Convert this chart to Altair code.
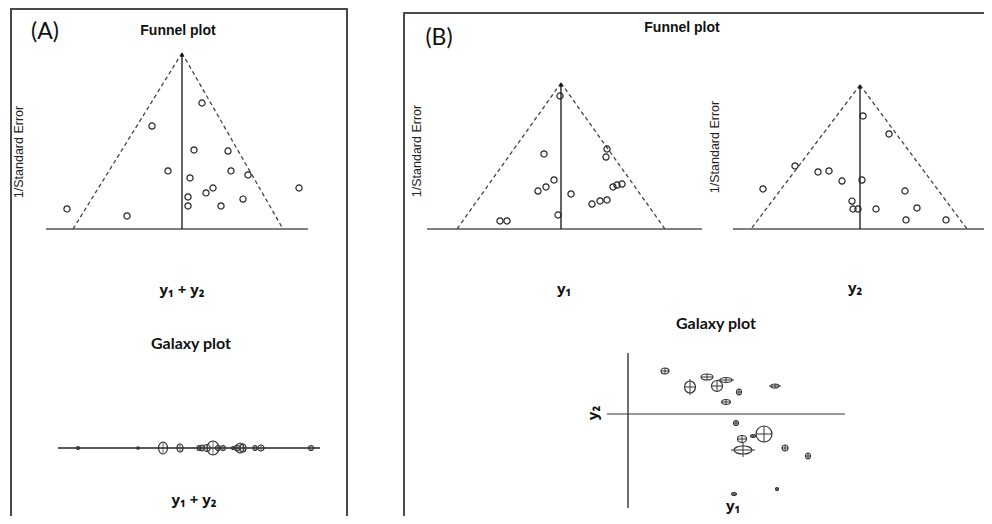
import altair as alt
import pandas as pd

# ---------------- data ----------------
# Panel A funnel (pooled y1 + y2): effect, precision (1/SE)
fa_effect = [0.40, -0.60, 0.24, 0.92, -0.28, 0.98, 1.32, 0.16, 0.62, 0.48, 2.34, 0.12, 1.22, 0.12, 0.78, -2.30, -1.10]
fa_prec = [7.16, 5.85, 4.49, 4.43, 3.30, 3.30, 3.07, 2.90, 2.33, 2.05, 2.33, 1.82, 1.70, 1.31, 1.31, 1.14, 0.74]
fa_limits = [-2.18, 2.02]
fa_axis = [-2.72, 2.52]

# Panel B funnel y1
f1_effect = [-0.02, -0.34, 0.92, 0.90, -0.14, -0.30, -0.46, 0.20, 1.04, 1.12, 1.22, 0.62, 0.78, 0.92, -0.06, -1.22, -1.08]
f1_prec = [9.11, 5.14, 5.48, 4.93, 3.36, 2.88, 2.60, 2.40, 2.88, 3.01, 3.08, 1.71, 1.92, 1.99, 0.96, 0.55, 0.55]
f1_limits = [-2.08, 2.08]
f1_axis = [-2.68, 2.82]

# Panel B funnel y2
f2_effect = [0.06, 0.58, -1.30, -0.84, -0.62, -0.36, 0.04, -1.94, 0.90, -0.16, -0.14, -0.04, 0.32, 1.14, 0.92, 1.72]
f2_prec = [7.85, 6.60, 4.38, 3.96, 4.03, 3.33, 3.40, 2.78, 2.64, 1.94, 1.39, 1.39, 1.39, 1.46, 0.63, 0.63]
f2_limits = [-2.18, 2.14]
f2_axis = [-2.54, 3.10]

apex_prec = 10.0
pooled = 0.0

# Panel A galaxy (1-D, y1 + y2)
ga_effect = [-2.08, -0.88, -0.38, -0.04, 0.34, 0.40, 0.50, 0.62, 0.72, 0.82, 1.02, 1.10, 1.16, 1.22, 1.46, 1.58, 2.58]
ga_se_x = [0.03, 0.024, 0.09, 0.06, 0.04, 0.05, 0.06, 0.12, 0.05, 0.05, 0.03, 0.05, 0.08, 0.06, 0.04, 0.06, 0.05]
ga_se_y = [0.075, 0.06, 0.30, 0.20, 0.125, 0.15, 0.175, 0.35, 0.125, 0.125, 0.075, 0.15, 0.25, 0.20, 0.125, 0.15, 0.125]
ga_axis = [-2.48, 2.76]

# Panel B galaxy (y1 vs y2)
gb_y1 = [0.925, 1.975, 1.55, 2.225, 2.45, 2.775, 3.675, 2.45, 2.70, 2.85, 3.125, 3.40, 2.875, 3.925, 4.50, 3.725, 2.65]
gb_y2 = [1.075, 0.925, 0.675, 0.70, 0.85, 0.55, 0.70, 0.30, -0.225, -0.625, -0.55, -0.50, -0.90, -0.85, -1.05, -1.875, -2.00]
gb_se1 = [0.10, 0.15, 0.1375, 0.1375, 0.15, 0.0625, 0.10, 0.1125, 0.0625, 0.1125, 0.0625, 0.20, 0.225, 0.075, 0.0625, 0.0375, 0.0625]
gb_se2 = [0.075, 0.075, 0.15, 0.1375, 0.0625, 0.075, 0.05, 0.0625, 0.0625, 0.0875, 0.0375, 0.20, 0.10, 0.075, 0.075, 0.0375, 0.0375]
gb_ci1 = [0.10, 0.15, 0.1375, 0.1375, 0.20, 0.0625, 0.15, 0.1125, 0.0625, 0.1125, 0.0625, 0.20, 0.30, 0.075, 0.0625, 0.0375, 0.0625]
gb_ci2 = [0.075, 0.075, 0.20, 0.1375, 0.0625, 0.075, 0.05, 0.0625, 0.0625, 0.0875, 0.0375, 0.20, 0.175, 0.075, 0.075, 0.0375, 0.0375]
gb_axis_y1 = [-0.525, 5.425]
gb_axis_y2 = [-2.35, 1.525]

INK = "#222222"
LINE = "#444444"


def sc(domain, rng):
    return alt.Scale(domain=domain, range=rng, nice=False, zero=False)


def ellipse_path(rx, ry):
    m = max(rx, ry)
    a, b, k = rx / m, ry / m, 0.5523
    f = lambda v: f"{v:.4f}"
    return (f"M {f(a)} 0 C {f(a)} {f(k*b)} {f(k*a)} {f(b)} 0 {f(b)} "
            f"C {f(-k*a)} {f(b)} {f(-a)} {f(k*b)} {f(-a)} 0 "
            f"C {f(-a)} {f(-k*b)} {f(-k*a)} {f(-b)} 0 {f(-b)} "
            f"C {f(k*a)} {f(-b)} {f(a)} {f(-k*b)} {f(a)} 0 Z"), (2 * m) ** 2


def funnel(effect, prec, limits, axis, xdom, xr, ydom, yr):
    xs, ys = sc(xdom, xr), sc(ydom, yr)
    X = lambda f: alt.X(f, type="quantitative", scale=xs, axis=None)
    Y = lambda f: alt.Y(f, type="quantitative", scale=ys, axis=None)
    pts = alt.Chart(pd.DataFrame({"e": effect, "p": prec})).mark_point(
        shape="circle", size=38, filled=False, color=INK, strokeWidth=1.2, opacity=1
    ).encode(x=X("e"), y=Y("p"))
    dash = pd.DataFrame({"x": [pooled, pooled], "y": [apex_prec, apex_prec],
                         "x2": limits, "y2": [0, 0]})
    dashed = alt.Chart(dash).mark_rule(color=LINE, strokeWidth=1.3, strokeDash=[4, 3]).encode(
        x=X("x"), y=Y("y"), x2="x2", y2="y2")
    base = alt.Chart(pd.DataFrame({"x": [axis[0]], "x2": [axis[1]], "y": [0]})).mark_rule(
        color="#555", strokeWidth=1.6).encode(x=X("x"), x2="x2", y=Y("y"))
    vert = alt.Chart(pd.DataFrame({"x": [pooled], "y": [0], "y2": [apex_prec]})).mark_rule(
        color="#111", strokeWidth=1.3).encode(x=X("x"), y=Y("y"), y2="y2")
    arrow = alt.Chart(pd.DataFrame({"x": [pooled], "y": [apex_prec]})).mark_point(
        shape="triangle-up", size=16, filled=True, color="#111", opacity=1, yOffset=2).encode(x=X("x"), y=Y("y"))
    return alt.layer(base, dashed, vert, arrow, pts)


def txt(s, x, y, size, font, weight="normal", angle=0, color="#111"):
    kw = dict(text=s, fontSize=size, font=font, fontWeight=weight, color=color,
              align="center", baseline="middle")
    if angle:
        kw["angle"] = angle
    return alt.Chart(alt.Data(values=[{}])).mark_text(**kw).encode(x=alt.value(x), y=alt.value(y))


def frame(x, x2, y, y2):
    return alt.Chart(alt.Data(values=[{}])).mark_rect(
        fill="white", fillOpacity=0, stroke="#4a4a4a", strokeWidth=2
    ).encode(x=alt.value(x), x2=alt.value(x2), y=alt.value(y), y2=alt.value(y2))


# ---------------- panels ----------------
fA = funnel(fa_effect, fa_prec, fa_limits, fa_axis, [-3, 3], [24, 324], [0, 10], [221, 45])
f1 = funnel(f1_effect, f1_prec, f1_limits, f1_axis, [-3, 3], [403, 703], [0, 10], [221, 75])
f2 = funnel(f2_effect, f2_prec, f2_limits, f2_axis, [-3, 3], [702, 1002], [0, 10], [221, 77])

# galaxy A
gaxd, gaxr, gayd, gayr = [-3, 3], [24, 324], [-1, 1], [460, 420]
gxs, gys = sc(gaxd, gaxr), sc(gayd, gayr)
ppx = (gaxr[1] - gaxr[0]) / (gaxd[1] - gaxd[0])
ppy = (gayr[0] - gayr[1]) / (gayd[1] - gayd[0])
shp = [ellipse_path(sx * ppx, sy * ppy) for sx, sy in zip(ga_se_x, ga_se_y)]
ga_df = pd.DataFrame({"e": ga_effect, "z": 0.0, "path": [s[0] for s in shp], "sz": [s[1] for s in shp],
                      "lo": [0 - v for v in ga_se_y], "hi": ga_se_y})
GX = lambda f: alt.X(f, type="quantitative", scale=gxs, axis=None)
GY = lambda f: alt.Y(f, type="quantitative", scale=gys, axis=None)
ga_line = alt.Chart(pd.DataFrame({"x": [ga_axis[0]], "x2": [ga_axis[1]], "y": [0]})).mark_rule(
    color="#222", strokeWidth=1.5).encode(x=GX("x"), x2="x2", y=GY("y"))
ga_vt = alt.Chart(ga_df).mark_rule(color="#444", strokeWidth=0.8).encode(x=GX("e"), y=GY("lo"), y2="hi")
ga_pts = alt.Chart(ga_df).mark_point(filled=False, color="#333", strokeWidth=1.2, opacity=1).encode(
    x=GX("e"), y=GY("z"), shape=alt.Shape("path:N", scale=None), size=alt.Size("sz:Q", scale=None))
gA = alt.layer(ga_line, ga_vt, ga_pts)

# galaxy B
gbxd, gbxr, gbyd, gbyr = [-1, 5], [580, 820], [-3, 2], [526, 326]
bxs, bys = sc(gbxd, gbxr), sc(gbyd, gbyr)
bpx = (gbxr[1] - gbxr[0]) / (gbxd[1] - gbxd[0])
bpy = (gbyr[0] - gbyr[1]) / (gbyd[1] - gbyd[0])
shb = [ellipse_path(a * bpx, b * bpy) for a, b in zip(gb_se1, gb_se2)]
gb_df = pd.DataFrame({"a": gb_y1, "b": gb_y2, "path": [s[0] for s in shb], "sz": [s[1] for s in shb],
                      "a0": [x - c for x, c in zip(gb_y1, gb_ci1)], "a1": [x + c for x, c in zip(gb_y1, gb_ci1)],
                      "b0": [y - c for y, c in zip(gb_y2, gb_ci2)], "b1": [y + c for y, c in zip(gb_y2, gb_ci2)]})
BX = lambda f: alt.X(f, type="quantitative", scale=bxs, axis=None)
BY = lambda f: alt.Y(f, type="quantitative", scale=bys, axis=None)
gb_h = alt.Chart(pd.DataFrame({"x": [gb_axis_y1[0]], "x2": [gb_axis_y1[1]], "y": [0]})).mark_rule(
    color="#777", strokeWidth=1.3).encode(x=BX("x"), x2="x2", y=BY("y"))
gb_v = alt.Chart(pd.DataFrame({"x": [0], "y": [gb_axis_y2[0]], "y2": [gb_axis_y2[1]]})).mark_rule(
    color="#333", strokeWidth=1.4).encode(x=BX("x"), y=BY("y"), y2="y2")
gb_ch = alt.Chart(gb_df).mark_rule(color="#333", strokeWidth=1.0).encode(x=BX("a0"), x2="a1", y=BY("b"))
gb_cv = alt.Chart(gb_df).mark_rule(color="#333", strokeWidth=1.0).encode(x=BX("a"), y=BY("b0"), y2="b1")
gb_pts = alt.Chart(gb_df).mark_point(filled=False, color="#333", strokeWidth=1.2, opacity=1).encode(
    x=BX("a"), y=BY("b"), shape=alt.Shape("path:N", scale=None), size=alt.Size("sz:Q", scale=None))
gB = alt.layer(gb_h, gb_v, gb_ch, gb_cv, gb_pts)

SANS = "Liberation Sans, Arial"
CAL = "Lato, Noto Sans"
YSUB = "Noto Sans, DejaVu Sans"

texts = [
    txt("(A)", 37, 24, 23, CAL),
    txt("(B)", 431, 30, 23, CAL),
    txt("Funnel plot", 170, 23, 14, SANS, "bold"),
    txt("Funnel plot", 674, 20, 14, SANS, "bold"),
    txt("1/Standard Error", 11, 144, 12.5, SANS, angle=270, color="#222"),
    txt("1/Standard Error", 409, 143, 12.5, SANS, angle=270, color="#222"),
    txt("1/Standard Error", 707, 139, 12.5, SANS, angle=270, color="#222"),
    txt("y\u2081 + y\u2082", 174, 282, 15, YSUB, "bold"),
    txt("Galaxy  plot", 183, 336, 16, CAL, "bold"),
    txt("y\u2081 + y\u2082", 186, 492, 15, YSUB, "bold"),
    txt("y\u2081", 556, 281, 15, YSUB, "bold"),
    txt("y\u2082", 847, 280, 15, YSUB, "bold"),
    txt("Galaxy  plot", 708, 316, 16, CAL, "bold"),
    txt("y\u2082", 585, 405, 15, YSUB, "bold", angle=270),
    txt("y\u2081", 725, 498, 15, YSUB, "bold"),
]

chart = alt.layer(
    frame(3, 339, 1, 540), frame(396, 1000, 5, 540),
    fA, f1, f2, gA, gB, *texts
).resolve_scale(x="independent", y="independent").properties(
    width=976, height=508, autosize=alt.AutoSizeParams(type="none"), padding=0,
    background="white"
).configure_view(stroke=None)

chart.save("out.html", embed_options={"renderer": "svg", "actions": False})
